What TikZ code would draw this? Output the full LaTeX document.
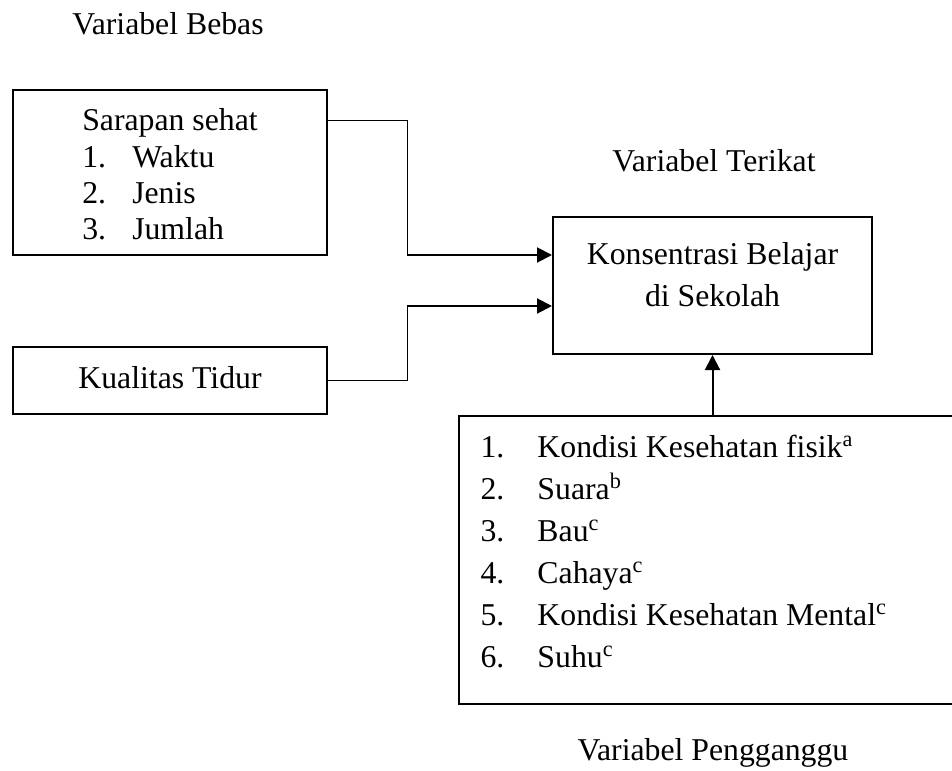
\documentclass[tikz,border=0pt]{standalone}
\usepackage{fontspec}
\setmainfont{Liberation Serif}
\usetikzlibrary{arrows.meta, positioning}

\tikzset{
	varbox/.style={draw, line width=0.8pt, inner sep=0pt, align=center},
	link/.style={line width=0.4pt},
	arrowlink/.style={line width=0.8pt, -{Triangle[length=6pt, width=6pt]}},
	heading/.style={inner sep=0pt},
}

\begin{document}
\begin{tikzpicture}[x=0.4pt, y=-0.4pt, font=\fontsize{12.7}{14.5}\selectfont]

\def \nrw{20pt}   % number column, left boxes
\def \nrwp{22.8pt} % number column, bottom box

\useasboundingbox (0,0) rectangle (952,771);

% headings
\node[heading] (bebas)   at (168,24)  {Variabel Bebas};
\node[heading] (terikat) at (714,161) {Variabel Terikat};
\node[heading] (ganggu)  at (713,753) {Variabel Pengganggu};

% boxes
\node[varbox, minimum width=125.6pt, minimum height=66pt] (sarapan) at (170,172.5) {};
\node[heading, align=left] (saraptext) at (170,178) {%
	\begin{tabular}{@{}l@{}}
	Sarapan sehat\\
	\makebox[\nrw][l]{1.}Waktu\\
	\makebox[\nrw][l]{2.}Jenis\\
	\makebox[\nrw][l]{3.}Jumlah
	\end{tabular}};

\node[varbox, minimum width=125.6pt, minimum height=26.8pt] (tidur) at (170,380.5) {};
\node[heading] (tidurtext) at (170,378) {Kualitas Tidur};

\node[varbox, minimum width=127.6pt, minimum height=54.8pt] (konsentrasi) at (712.5,285.5) {};
\node[heading, align=center, font=\fontsize{12.7}{16.8}\selectfont] (konstext) at (712.5,275) {Konsentrasi Belajar\\di Sekolah};

\node[varbox, minimum width=198pt, minimum height=115.2pt, anchor=north west] (pengganggu) at (458,415) {};
\node[heading, anchor=west, font=\fontsize{12.7}{16.8}\selectfont] (ganggulist) at (480,554) {%
	\begin{tabular}{@{}p{\nrwp}@{}l@{}}
	1. & Kondisi Kesehatan fisik\textsuperscript{a}\\
	2. & Suara\textsuperscript{b}\\
	3. & Bau\textsuperscript{c}\\
	4. & Cahaya\textsuperscript{c}\\
	5. & Kondisi Kesehatan Mental\textsuperscript{c}\\
	6. & Suhu\textsuperscript{c}
	\end{tabular}};

% connectors
\coordinate (bendA) at (407,121);
\coordinate (bendB) at (407,255);
\coordinate (bendC) at (407,380.5);
\coordinate (bendD) at (407,306);

\draw[link] (sarapan.east |- bendA) -- (bendA) -- (bendB);
\draw[arrowlink] (bendB) -- (konsentrasi.west |- bendB);

\draw[link] (tidur.east) -- (bendC) -- (bendD);
\draw[arrowlink] (bendD) -- (konsentrasi.west |- bendD);

\draw[arrowlink] (pengganggu.north -| konsentrasi.south) -- (konsentrasi.south);

\end{tikzpicture}
\end{document}
